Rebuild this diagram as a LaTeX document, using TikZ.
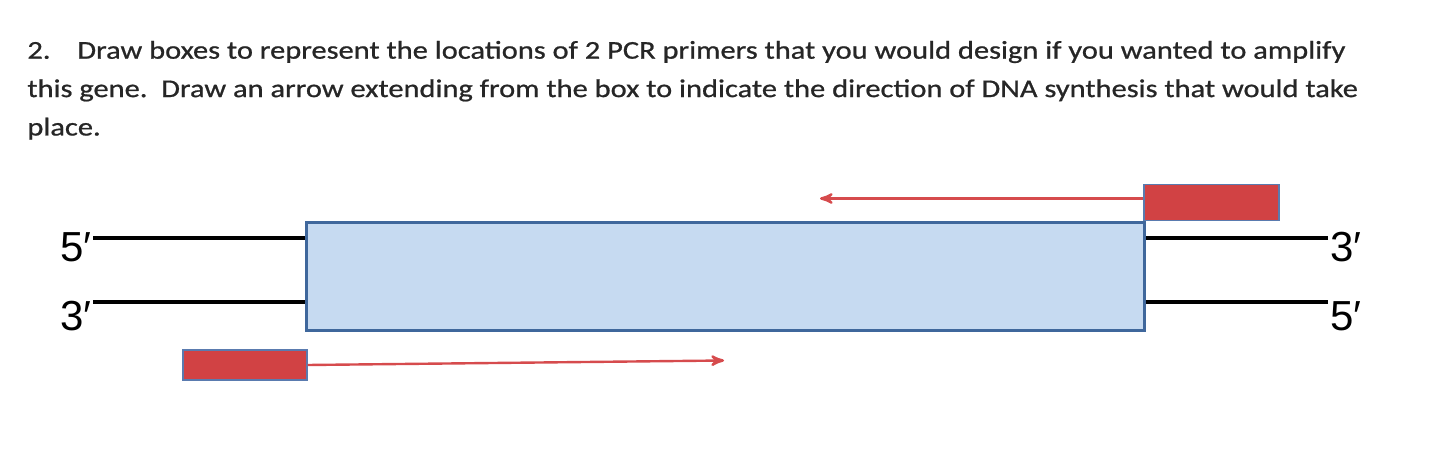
\documentclass[tikz,border=0pt]{standalone}
\usepackage{fontspec}
\setmainfont{Carlito}[FakeStretch=1.19,FakeBold=0.8]
\newfontfamily\labelfont{Liberation Sans}
\usetikzlibrary{arrows,positioning}
\definecolor{genefill}{HTML}{C6DAF1}
\definecolor{genedraw}{HTML}{3F679C}
\definecolor{primerfill}{HTML}{D14244}
\definecolor{primerdraw}{HTML}{5A7BAF}
\definecolor{synth}{HTML}{D64B4D}
\definecolor{qtext}{HTML}{262626}
\tikzset{
  every picture/.style = {
    >=stealth',
    x = 0.5pt,
    y = -0.5pt,
  }
  ,
  gene/.style = {
    rectangle,
    draw = genedraw,
    fill = genefill,
    line width = 1.5pt,
    minimum width = 419pt,
    minimum height = 54pt,
    inner sep = 0pt
  }
  , % primer boxes
  primer/.style = {
    rectangle,
    draw = primerdraw,
    fill = primerfill,
    line width = 0.6pt,
    inner sep = 0pt
  }
  , % strands
  strand/.style = {
    line width = 2pt,
    black
  }
  , % direction of synthesis
  synthesis/.style = {
    ->,
    draw = synth,
    line width = 1.2pt
  }
  , % 5' and 3' ends
  end-label/.style = {
    font = \labelfont\fontsize{21}{21}\selectfont,
    inner sep = 0pt
  }
}
\begin{document}
\begin{tikzpicture}
\useasboundingbox (0,0) rectangle (1440,449);
% question
\node[anchor=north west, inner sep=0pt, align=left, text=qtext,
  font=\fontsize{12.8}{19.2}\selectfont] (question) at (27,40.5)
  {\makebox[25pt][l]{2.}Draw boxes to represent the locations of 2 PCR primers that you would design if you wanted to amplify\\
   this gene.\ \ Draw an arrow extending from the box to indicate the direction of DNA synthesis that would take\\
   place.};

% gene and strands
\node[gene] (g) at (725,276) {};
\coordinate (tl) at (93,238);
\coordinate (bl) at (93,302);
\coordinate (tr) at (1328,238);
\coordinate (br) at (1328,302);
\node[end-label, anchor=east] (tl5) at (92,247) {5′};
\node[end-label, anchor=east] (bl3) at (92,316) {3′};
\node[end-label, anchor=west] (tr3) at (1330,247) {3′};
\node[end-label, anchor=west] (br5) at (1330,316) {5′};
\draw[strand] (tl) -- (tl -| g.west);
\draw[strand] (bl) -- (bl -| g.west);
\draw[strand] (tr) -- (tr -| g.east);
\draw[strand] (br) -- (br -| g.east);

% primers
\node[primer, minimum width=67.5pt, minimum height=18pt] (rev) at (1211.5,202.5) {};
\node[primer, minimum width=62pt, minimum height=15pt] (fwd) at (245,365) {};
\coordinate (revend) at (820,198.5);
\coordinate (fwdend) at (724,360.5);
\draw[synthesis] (revend -| rev.west) -- (revend);
\draw[synthesis] (fwd.east) -- (fwdend);
\end{tikzpicture}
\end{document}
